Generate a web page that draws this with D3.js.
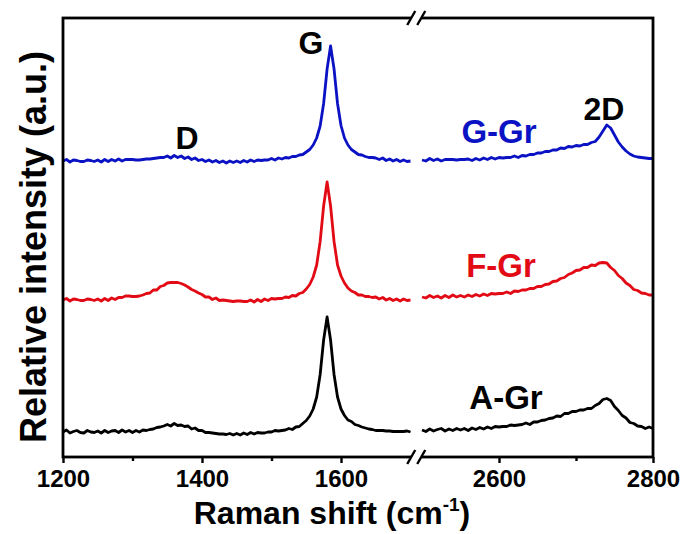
<!DOCTYPE html>
<html><head><meta charset="utf-8">
<script src="https://cdn.jsdelivr.net/npm/d3@7"></script>
<style>
body{margin:0;background:#fff}
svg{display:block}
text{font-family:Arial,"Liberation Sans",sans-serif;font-weight:bold}
</style></head><body>
<svg width="688" height="534"></svg>
<script>
// Raman shift sampling (cm^-1), 5 cm^-1 steps
const leftWavenumbers = d3.range(1200, 1701, 5);
const rightWavenumbers = d3.range(2500, 2801, 5);

// Relative intensities (a.u., stacked with offsets as in the figure)
const blackLeft = [
25,27,24,25.5,26.5,24.5,24,26.5,25,24.5,
26,24,26.5,24.5,26,26.5,24.5,27,25,26.5,
24.5,26.5,25,27,26.5,27.5,28,29.5,30,31,
32.5,31,33.5,31.5,32,30.5,31,28,29,26.5,
26.5,24.5,24.5,24,23.5,23,23,22.5,23.5,22,
23.5,22,24,22.5,24.5,23,24.5,24,24,25,
25,26.5,26,26.5,27,28.5,27.5,30,30.5,33.5,
36.5,41,48,60,82.5,117,140,117,82.5,60,
48,41.5,37,35.5,32.5,31.5,30,29,28,27.5,
26.5,26.5,26.5,26,26,25.5,25.5,25.5,25.5,26,
25];
const blackRight = [
27,25.5,28,26,27.5,28.5,26,28,26.5,28.5,
27,28.5,26.5,29,27.5,29.5,28,30,28.5,30.5,
30,30.5,30.5,32,31.5,32,32.5,34,32.5,35,
35,36.5,37,38.5,39,41,40.5,43.5,43.5,45.5,
45.5,47,47,48.5,48.5,51.5,53.5,57.5,58.5,56.5,
50.5,46.5,41.5,39,34.5,33.5,31,30.5,28.5,30,
28.5];
const redLeft = [
157,158.5,156,158,157.5,156.5,156.5,158,157.5,156.5,
158,156,158.5,156.5,159,157.5,159.5,159.5,161,161,
160.5,160.5,161,162,163.5,164,167,167,170.5,171.5,
174,174.5,174.5,174.5,173.5,172,170,167.5,166,164,
162.5,160,160,157.5,159,156.5,157,156.5,156,155.5,
156,156,155.5,155.5,157,155,157.5,155.5,158,156.5,
158.5,158,158.5,158.5,160,159.5,161.5,161,163.5,164.5,
168,172.5,180,192,215.5,251,275,251,215.5,192,
181,174,169,166,164.5,162,162,160.5,160.5,159.5,
160,158,159.5,157,158.5,156.5,158,156,158,156.5,
157];
const redRight = [
160,159,161.5,159.5,161,159,161.5,159.5,162,160,
161.5,160,162,160.5,162.5,161,163,161.5,163.5,163,
163.5,163.5,165,163.5,166,165.5,167,167,168.5,168.5,
170.5,170.5,172.5,173,175.5,176,178.5,179.5,182.5,184,
186.5,187,189.5,189.5,192,191.5,194,194.5,194,189.5,
186.5,181.5,178.5,174,171.5,167.5,166.5,164,163.5,162,
162];
const blueLeft = [
296,297.5,295,297,296.5,295.5,295.5,297,296.5,295.5,
297,295,297.5,295.5,297.5,296,298,296,297.5,297.5,
297.5,297,297,297.5,298,298,298.5,299,299.5,299.5,
301,299,301.5,299.5,301,298.5,300,297.5,299,296.5,
297.5,295.5,297,295,296.5,294.5,296,294,296,294.5,
296,294.5,296.5,295,297,295.5,297,296.5,297,297,
298.5,297,299,298,299.5,299,300.5,300.5,302,302.5,
305,307.5,312,319,331,353.5,388,411,388,353.5,
331.5,319,312,307.5,305,302.5,302,300.5,299.5,299.5,
299,297.5,299,296.5,298,296,297.5,295.5,297,295.5,
296];
const blueRight = [
297,296,298.5,296.5,298,296,297.5,297.5,297.5,297,
297.5,297.5,298,296.5,298.5,297,299,297.5,299.5,298,
299.5,299,299.5,299.5,301,299.5,301.5,301,302.5,302.5,
304,304,305.5,305.5,307,307,309,308.5,310.5,310,
311.5,311,312.5,312.5,314.5,315.5,320,326,332,329,
322,315,310,306,303,301,300,299.5,299,298.5,
298.5];

const sampleNames = ["G-Gr", "F-Gr", "A-Gr"];
const sampleColors = ["#0a12c4", "#e20a14", "#000000"];
const leftTicks = [1200, 1400, 1600];
const leftMinorTicks = [1300, 1500];
const rightTicks = [2600, 2800];
const rightMinorTicks = [2700];
const peakLabels = ["D", "G", "2D"];

const series = [
  {name: sampleNames[0], color: sampleColors[0], left: blueLeft, right: blueRight},
  {name: sampleNames[1], color: sampleColors[1], left: redLeft, right: redRight},
  {name: sampleNames[2], color: sampleColors[2], left: blackLeft, right: blackRight}
];

const svg = d3.select("svg");
const plotL = 63, plotR = 653, plotT = 18, plotB = 457;

const xL = d3.scaleLinear().domain([1200, 1700]).range([plotL, 410.5]);
const xR = d3.scaleLinear().domain([2500, 2800]).range([422, plotR]);
const y = d3.scaleLinear().domain([0, 440]).range([plotB, plotB - 440]);

// data lines
const lineL = d3.line().x((d, i) => xL(leftWavenumbers[i])).y(d => y(d));
const lineR = d3.line().x((d, i) => xR(rightWavenumbers[i])).y(d => y(d));
const g = svg.append("g");
series.forEach(s => {
  g.append("path").attr("d", lineL(s.left)).attr("fill", "none")
    .attr("stroke", s.color).attr("stroke-width", 2.8).attr("stroke-linejoin", "round");
  g.append("path").attr("d", lineR(s.right)).attr("fill", "none")
    .attr("stroke", s.color).attr("stroke-width", 2.8).attr("stroke-linejoin", "round");
});

// axes
function styleAxis(sel) {
  sel.select(".domain").remove();
  sel.selectAll("line").attr("stroke", "#000").attr("stroke-width", 2.4);
  sel.selectAll("text").attr("font-size", 24).attr("fill", "#000")
    .attr("font-family", "Arial, 'Liberation Sans', sans-serif").attr("font-weight", "bold");
}
const fmt = d3.format("d");
svg.append("g").attr("transform", `translate(0,${plotB})`)
  .call(d3.axisBottom(xL).tickValues(leftTicks).tickSize(6).tickPadding(7).tickFormat(fmt)).call(styleAxis);
svg.append("g").attr("transform", `translate(0,${plotB})`)
  .call(d3.axisBottom(xL).tickValues(leftMinorTicks).tickSize(4).tickFormat("")).call(styleAxis);
svg.append("g").attr("transform", `translate(0,${plotB})`)
  .call(d3.axisBottom(xR).tickValues(rightTicks).tickSize(6).tickPadding(7).tickFormat(fmt)).call(styleAxis);
svg.append("g").attr("transform", `translate(0,${plotB})`)
  .call(d3.axisBottom(xR).tickValues(rightMinorTicks).tickSize(4).tickFormat("")).call(styleAxis);

// frame
svg.append("rect").attr("x", plotL).attr("y", plotT).attr("width", plotR - plotL).attr("height", plotB - plotT)
  .attr("fill", "none").attr("stroke", "#000").attr("stroke-width", 2.8);

// axis break marks
const breakX = (xL(1700) + xR(2500)) / 2;
[plotT, plotB].forEach(yy => {
  svg.append("rect").attr("x", breakX - 5).attr("y", yy - 3).attr("width", 10).attr("height", 6).attr("fill", "#fff");
  [-5, 5].forEach(dx => {
    svg.append("line").attr("x1", breakX + dx - 4).attr("y1", yy + 7)
      .attr("x2", breakX + dx + 4).attr("y2", yy - 7)
      .attr("stroke", "#000").attr("stroke-width", 2.4);
  });
});

// axis titles
const xt = svg.append("text").attr("x", 332).attr("y", 524).attr("text-anchor", "middle")
  .attr("font-size", 32).attr("fill", "#000");
xt.append("tspan").text("Raman shift (cm");
xt.append("tspan").attr("font-size", 19).attr("dy", -13).text("-1");
xt.append("tspan").attr("dy", 13).text(")");

svg.append("text").attr("transform", "translate(46,247) rotate(-90)").attr("text-anchor", "middle")
  .attr("font-size", 36).attr("fill", "#000").text("Relative intensity (a.u.)");

// peak labels
svg.append("text").attr("x", 187).attr("y", 149).attr("text-anchor", "middle").attr("font-size", 32).text(peakLabels[0]);
svg.append("text").attr("x", 311).attr("y", 54).attr("text-anchor", "middle").attr("font-size", 32).text(peakLabels[1]);
svg.append("text").attr("x", 604).attr("y", 120).attr("text-anchor", "middle").attr("font-size", 32).text(peakLabels[2]);

// sample labels
const labelPos = [[499, 143], [501, 277], [506, 409]];
series.forEach((s, i) => {
  svg.append("text").attr("x", labelPos[i][0]).attr("y", labelPos[i][1]).attr("text-anchor", "middle")
    .attr("font-size", 33).attr("fill", s.color).text(s.name);
});
</script></body></html>
